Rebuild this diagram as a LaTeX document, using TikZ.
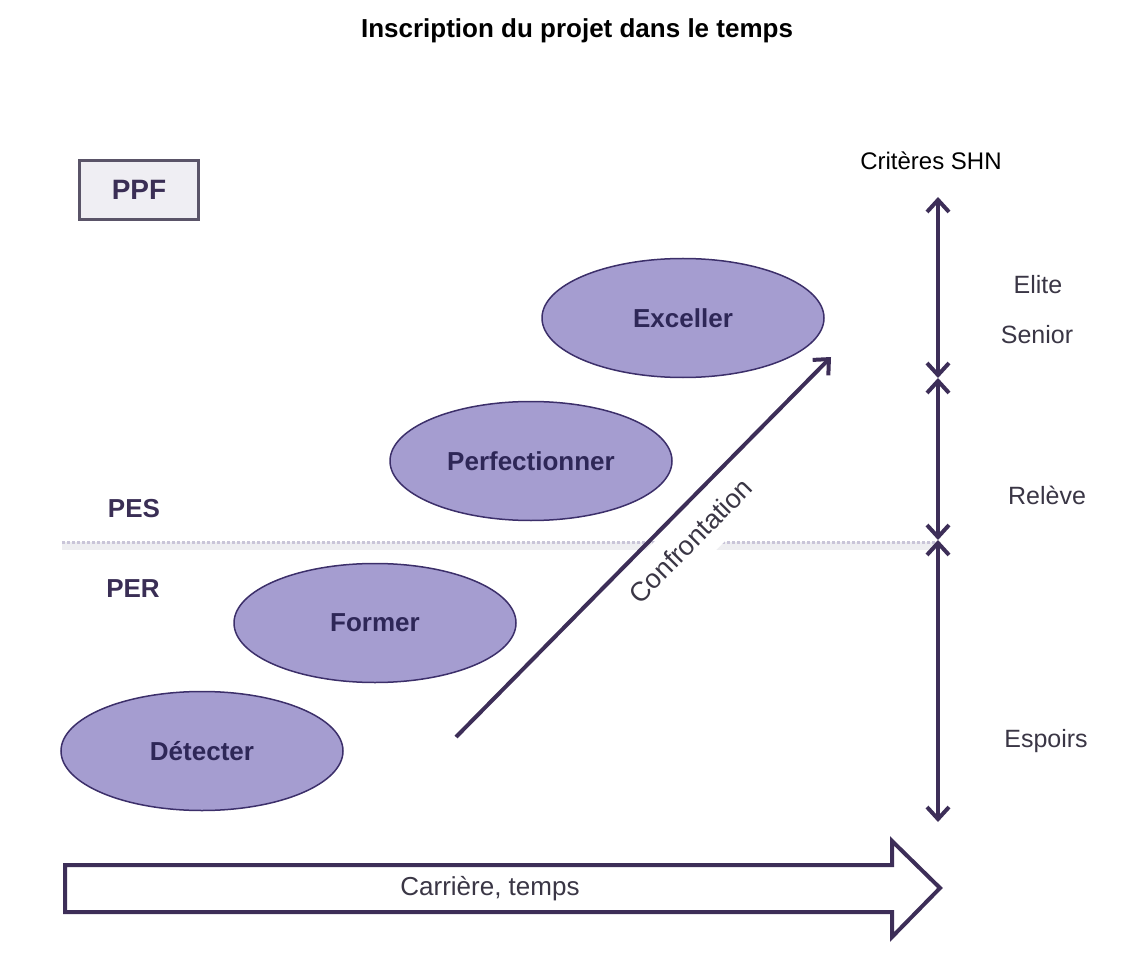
\documentclass[tikz,border=0pt]{standalone}
\usepackage{fontspec}
\setmainfont{Liberation Sans}
\usepackage{tikz}
\usetikzlibrary{arrows.meta}
\usetikzlibrary{shapes}

\definecolor{linecol}{HTML}{3D2E58}
\definecolor{ellfill}{HTML}{A59DD0}
\definecolor{elldraw}{HTML}{3C2F6A}
\definecolor{phasetext}{HTML}{2E2757}
\definecolor{leveltext}{HTML}{3A2E55}
\definecolor{sidetext}{HTML}{3A3645}
\definecolor{boxfill}{HTML}{EFEEF3}
\definecolor{boxdraw}{HTML}{5A5468}
\definecolor{dotcol}{HTML}{C9C5D8}
\definecolor{shadowcol}{HTML}{EEEEF1}

\begin{document}
\begin{tikzpicture}[x=1pt, y=-1pt,
        phase_style/.style={ellipse,draw=elldraw,line width=1.5pt,fill=ellfill,minimum width=282pt,minimum height=119pt,inner sep=0pt,text=phasetext,font=\fontsize{26}{30}\selectfont\bfseries},
        level_style/.style={text=leveltext,font=\fontsize{26}{30}\selectfont\bfseries},
        side_style/.style={text=sidetext,font=\fontsize{25}{30}\selectfont},
        conf_style/.style={sloped,below=2pt,fill=white,inner xsep=4pt,inner ysep=15pt,text=sidetext,font=\fontsize{27}{30}\selectfont},
        arrow_style/.style={draw=linecol,line width=4pt,-{Straight Barb[length=12pt,width=22pt]}},
        scale_style/.style={draw=linecol,line width=4pt,{Straight Barb[length=12pt,width=22pt]}-{Straight Barb[length=12pt,width=22pt]}}]

        \useasboundingbox (0,0) rectangle (1132,965);

        \node [font=\fontsize{26}{30}\selectfont\bfseries](title) at (577,31) {Inscription du projet dans le temps};

        \node [draw=boxdraw,line width=2.5pt,fill=boxfill,minimum width=119pt,minimum height=59pt,text=leveltext,font=\fontsize{28}{32}\selectfont\bfseries](ppf) at (139,190) {PPF};

        % separation PES / PER
        \draw [shadowcol,line width=8pt] (62,546) -- (938,546);
        \draw [dotcol,line width=3pt,dash pattern=on 3pt off 2pt] (62,542) -- (938,542);

        \node [level_style](pes) at (134,509) {PES};
        \node [level_style](per) at (133,589) {PER};

        \node [phase_style](exceller) at (683,318) {Exceller};
        \node [phase_style](perfectionner) at (531,461) {Perfectionner};
        \node [phase_style](former) at (375,623) {Former};
        \node [phase_style](detecter) at (202,751) {Détecter};

        \coordinate (c_start) at (456,737);
        \coordinate (c_end) at (831,357);
        \draw [arrow_style] (c_start) -- node[pos=0.57,conf_style]{Confrontation} (c_end);

        % echelle des criteres
        \node [font=\fontsize{24}{28}\selectfont](criteres) at (931,161) {Critères SHN};
        \coordinate (v0) at (938,197);
        \coordinate (v1) at (938,378);
        \coordinate (v2) at (938,540);
        \coordinate (v3) at (938,822);
        \draw [scale_style] (v0) -- (v1);
        \draw [scale_style] (v1) -- (v2);
        \draw [scale_style] (v2) -- (v3);

        \node [side_style](elite) at (1038,285) {Elite};
        \node [side_style](senior) at (1037,335) {Senior};
        \node [side_style](releve) at (1047,495) {Relève};
        \node [side_style](espoirs) at (1046,741) {Espoirs};

        % fleche du temps
        \draw [draw=linecol,line width=4pt,fill=white,line join=miter] (65,865) -- (892,865) -- (892,841) -- (940,888) -- (892,937) -- (892,912) -- (65,912) -- cycle;
        \node [text=sidetext,font=\fontsize{26}{30}\selectfont](carriere) at (490,889) {Carrière, temps};

\end{tikzpicture}
\end{document}
